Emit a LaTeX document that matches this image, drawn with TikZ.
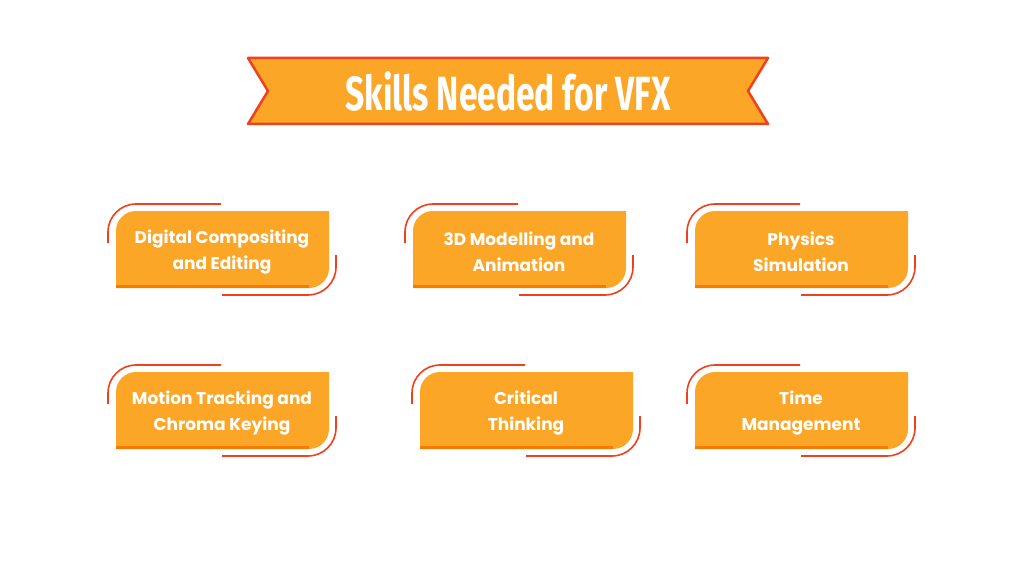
\documentclass[tikz,border=0pt]{standalone}
\usepackage{fontspec}
\setmainfont{Poppins}
\newfontfamily\titlefont{Fira Sans}
\definecolor{boxfill}{RGB}{251,166,38}
\definecolor{boxedge}{RGB}{245,124,0}
\definecolor{accent}{RGB}{240,65,30}
\tikzset{
  skilltext/.style={text=white,font=\bfseries\fontsize{17}{26}\selectfont,align=center},
  accentline/.style={draw=accent,line width=1.6pt}
}
\newcommand{\skillbox}[4]{% x, y (top left), name, text
  \fill[boxfill] (#1,#2+77) -- (#1,#2+20) arc (180:270:20) -- (#1+213,#2) -- (#1+213,#2+57) arc (0:90:20) -- cycle;
  \fill[boxedge] (#1,#2+74) -- (#1+193,#2+74) -- (#1+193,#2+77) -- (#1,#2+77) -- cycle;
  \draw[accentline] (#1-8,#2+32) -- (#1-8,#2+21) arc (180:270:28) -- (#1+105,#2-7);
  \draw[accentline] (#1+220,#2+44) -- (#1+220,#2+56) arc (0:90:28) -- (#1+106,#2+84);
  \node[skilltext] (#3) at (#1+106,#2+41) {#4};
}
\begin{document}
\begin{tikzpicture}[x=1pt,y=-1pt]
\useasboundingbox (0,0) rectangle (1024,572);
\fill[white] (0,0) rectangle (1024,572);
% title banner
\draw[fill=boxfill,draw=accent,line width=2.5pt,line join=round]
  (248,58) -- (768,58) -- (748,91) -- (768,124) -- (248,124) -- (268,91) -- cycle;
\node[text=white,font=\titlefont\bfseries\fontsize{48}{50}\selectfont,xscale=0.7] (title) at (508,91) {Skills Needed for VFX};
% skill boxes
\skillbox{116}{211}{compositing}{Digital Compositing\\and Editing}
\skillbox{413}{211}{modelling}{3D Modelling and\\Animation}
\skillbox{695}{211}{physics}{Physics\\Simulation}
\skillbox{116}{372}{tracking}{Motion Tracking and\\Chroma Keying}
\skillbox{420}{372}{thinking}{Critical\\Thinking}
\skillbox{695}{372}{time}{Time\\Management}
\end{tikzpicture}
\end{document}
